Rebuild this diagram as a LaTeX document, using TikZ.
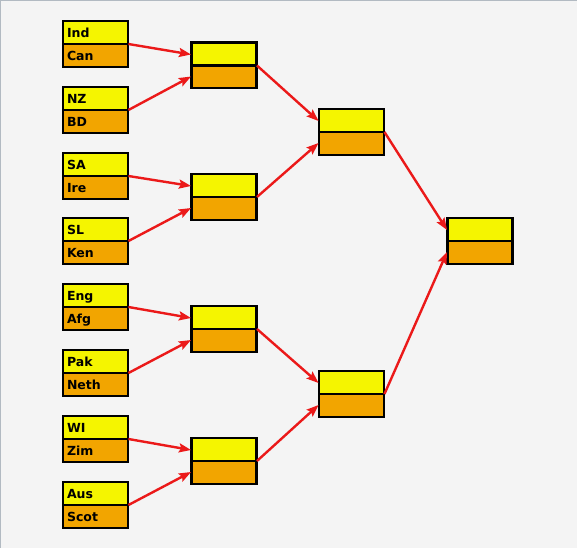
\documentclass[tikz,border=0pt]{standalone}
\usepackage{fontspec}
\setmainfont{DejaVu Sans}
\usetikzlibrary{shapes.multipart,arrows.meta}
\definecolor{boxyellow}{RGB}{245,245,0}
\definecolor{boxorange}{RGB}{242,165,0}
\definecolor{arrowred}{RGB}{235,25,25}
\definecolor{pagegray}{RGB}{244,244,244}
\definecolor{framegray}{RGB}{178,186,194}
% one line per half of a box
\newcommand{\teams}[2]{\rule[-6pt]{0pt}{22pt}#1\nodepart{two}\rule[-6pt]{0pt}{22pt}#2}
\begin{document}
\begin{tikzpicture}[x=1pt,y=-1pt,
	slot/.style={rectangle split, rectangle split parts=2, rectangle split part fill={boxyellow,boxorange},
		draw, line width=0.9pt, postaction={draw,line width=2.2pt}, text width=57pt,
		inner xsep=4pt, inner ysep=0pt, font=\fontsize{12.5}{15}\selectfont\bfseries},
	win/.style={draw=arrowred, line width=2.4pt, -{Stealth[length=12pt,width=9pt,inset=2pt]}}]
	\useasboundingbox (0,0) rectangle (577,548);
	\fill[pagegray] (0,0) rectangle (577,548);
	\draw[framegray, line width=2pt] (0,548) -- (0,0) -- (577,0);
	% first round
	\node[slot] (ind) at (95.5,44) {\teams{Ind}{Can}};
	\node[slot] (nz) at (95.5,110) {\teams{NZ}{BD}};
	\node[slot] (sa) at (95.5,176) {\teams{SA}{Ire}};
	\node[slot] (sl) at (95.5,241) {\teams{SL}{Ken}};
	\node[slot] (eng) at (95.5,307) {\teams{Eng}{Afg}};
	\node[slot] (pak) at (95.5,373) {\teams{Pak}{Neth}};
	\node[slot] (wi) at (95.5,439) {\teams{WI}{Zim}};
	\node[slot] (aus) at (95.5,505) {\teams{Aus}{Scot}};
	% quarter finals
	\node[slot] (qf1) at (224,65.5) {\teams{}{}};
	\node[slot] (qf2) at (224,197) {\teams{}{}};
	\node[slot] (qf3) at (224,329) {\teams{}{}};
	\node[slot] (qf4) at (224,461) {\teams{}{}};
	% semi finals and final
	\node[slot] (sf1) at (351.5,132) {\teams{}{}};
	\node[slot] (sf2) at (351.5,394) {\teams{}{}};
	\node[slot] (fin) at (480,241) {\teams{}{}};
	\draw[win] (ind.east) -- ([yshift=11pt]qf1.west);
	\draw[win] (nz.east) -- ([yshift=-11pt]qf1.west);
	\draw[win] (sa.east) -- ([yshift=11pt]qf2.west);
	\draw[win] (sl.east) -- ([yshift=-11pt]qf2.west);
	\draw[win] (eng.east) -- ([yshift=11pt]qf3.west);
	\draw[win] (pak.east) -- ([yshift=-11pt]qf3.west);
	\draw[win] (wi.east) -- ([yshift=11pt]qf4.west);
	\draw[win] (aus.east) -- ([yshift=-11pt]qf4.west);
	\draw[win] (qf1.east) -- ([yshift=11pt]sf1.west);
	\draw[win] (qf2.east) -- ([yshift=-11pt]sf1.west);
	\draw[win] (qf3.east) -- ([yshift=11pt]sf2.west);
	\draw[win] (qf4.east) -- ([yshift=-11pt]sf2.west);
	\draw[win] (sf1.east) -- ([yshift=11pt]fin.west);
	\draw[win] (sf2.east) -- ([yshift=-11pt]fin.west);
\end{tikzpicture}
\end{document}
